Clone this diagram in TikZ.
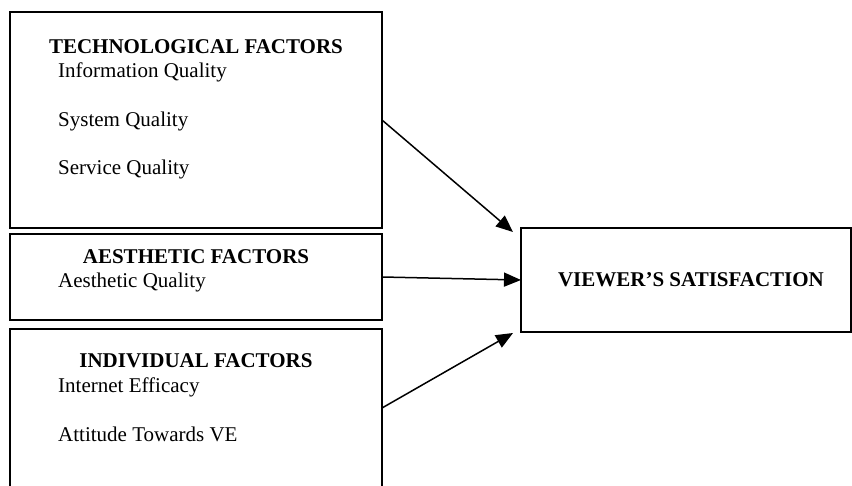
\documentclass[tikz,border=0pt]{standalone}
\usepackage{fontspec}
\setmainfont{Liberation Serif}
\usetikzlibrary{arrows.meta}
\tikzset{
  factorbox/.style={draw=black, line width=2.5pt, inner sep=0pt, outer sep=0pt, anchor=north west},
  headtxt/.style={anchor=base, inner sep=0pt, font=\fontsize{21}{25}\selectfont\bfseries},
  itemtxt/.style={anchor=base west, inner sep=0pt, font=\fontsize{21}{25}\selectfont},
  link/.style={draw=black, line width=1.5pt, -{Triangle[length=17pt,width=14pt]}}
}
\begin{document}
\begin{tikzpicture}[x=1pt,y=-1pt]
\clip (0,0) rectangle (852,486);
\fill[white] (0,0) rectangle (852,486);
% boxes
\node[factorbox, minimum width=372pt, minimum height=216pt] (tech) at (10,12) {};
\node[factorbox, minimum width=372pt, minimum height=86pt] (aes) at (10,234) {};
\node[factorbox, minimum width=372pt, minimum height=158pt] (ind) at (10,329) {};
\node[factorbox, minimum width=330pt, minimum height=104pt] (viewer) at (521,228) {};
% texts
\node[headtxt] (th) at (196,54) {TECHNOLOGICAL FACTORS};
\node[itemtxt] (t1) at (58,78) {Information Quality};
\node[itemtxt] (t2) at (58,127) {System Quality};
\node[itemtxt] (t3) at (58,175) {Service Quality};
\node[headtxt] (ah) at (196,264) {AESTHETIC FACTORS};
\node[itemtxt] (a1) at (58,288) {Aesthetic Quality};
\node[headtxt] (ih) at (196,368) {INDIVIDUAL FACTORS};
\node[itemtxt] (i1) at (58,392) {Internet Efficacy};
\node[itemtxt] (i2) at (58,442) {Attitude Towards VE};
\node[headtxt] (vs) at (691,287) {VIEWER’S SATISFACTION};
% arrows
\draw[link] (tech.east) -- ([xshift=-8pt,yshift=-4pt]viewer.north west);
\draw[link] (aes.east) -- (viewer.west);
\draw[link] (ind.east) -- ([xshift=-8pt,yshift=-1pt]viewer.south west);
\end{tikzpicture}
\end{document}
